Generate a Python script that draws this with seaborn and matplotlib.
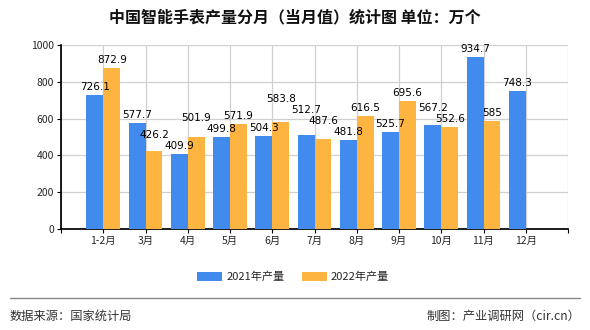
import numpy as np
import pandas as pd
import matplotlib
matplotlib.use("Agg")
import matplotlib.pyplot as plt
from matplotlib.lines import Line2D
from matplotlib.patches import Patch
import seaborn as sns

months = ["1-2月", "3月", "4月", "5月", "6月", "7月", "8月", "9月", "10月", "11月", "12月"]
v2021 = [726.1, 577.7, 409.9, 499.8, 504.3, 512.7, 481.8, 525.7, 567.2, 934.7, 748.3]
v2022 = [872.9, 426.2, 501.9, 571.9, 583.8, 487.6, 616.5, 695.6, 552.6, 585, np.nan]
series = ["2021年产量", "2022年产量"]
colors = ["#418bee", "#fdb441"]
yticks = [0, 200, 400, 600, 800, 1000]

sns.set_theme(style="white")
plt.rcParams["font.family"] = ["Noto Sans CJK SC", "DejaVu Sans"]

df = pd.DataFrame({
    "month": months * 2,
    "value": v2021 + v2022,
    "series": [series[0]] * len(months) + [series[1]] * len(months),
})

fig = plt.figure(figsize=(5.9, 3.3), dpi=100)
ax = fig.add_axes([61 / 590, 1 - 229 / 330, (568 - 61) / 590, (229 - 45) / 330])

sns.barplot(data=df, x="month", y="value", hue="series", palette=colors,
            width=0.8, gap=0, saturation=1, ax=ax, legend=False, zorder=3,
            linewidth=0, edgecolor="none")

ax.set_xlim(-1, 11)
ax.set_ylim(0, 1000)
ax.set_yticks(yticks)
ax.set_yticklabels([str(t) for t in yticks], fontsize=7.5)
ax.set_xticks(list(range(-1, 12)))
ax.set_xticklabels([""] + months + [""], fontsize=7.5)
ax.set_xlabel("")
ax.set_ylabel("")
ax.grid(True, color="#d0d0d0", linewidth=0.9, zorder=0)
ax.set_axisbelow(True)
for s in ["top", "right"]:
    ax.spines[s].set_visible(False)
ax.spines["left"].set_color("black")
ax.spines["bottom"].set_color("black")
ax.tick_params(axis="both", which="both", direction="out", length=3, width=0.8,
               color="black", pad=2, bottom=True, left=True)

# value labels, placed above bars and nudged up to avoid overlaps
labels = []
for i in range(len(months)):
    for k, vals in enumerate([v2021, v2022]):
        v = vals[i]
        if np.isnan(v):
            continue
        x = i - 0.2 if k == 0 else i + 0.2
        labels.append((v, x))
labels.sort()
fig.canvas.draw()
renderer = fig.canvas.get_renderer()
placed = []
for v, x in labels:
    t = ax.text(x, v, f"{v:g}", ha="center", va="bottom", fontsize=7.5,
                color="black", zorder=5, family=["DejaVu Sans"])
    t.set_transform(ax.transData + matplotlib.transforms.ScaledTranslation(0, 3 / 72, fig.dpi_scale_trans))
    dy = 3.0
    for _ in range(20):
        t.set_transform(ax.transData + matplotlib.transforms.ScaledTranslation(0, dy / 100, fig.dpi_scale_trans))
        bb = t.get_window_extent(renderer).expanded(1.0, 1.0)
        hit = None
        for pb in placed:
            if bb.overlaps(pb):
                hit = pb
                break
        if hit is None:
            break
        dy += (hit.y1 - bb.y0) + 1
    placed.append(t.get_window_extent(renderer))

fig.text(0.5, 1 - 17 / 330, "中国智能手表产量分月（当月值）统计图 单位：万个",
         ha="center", va="center", fontsize=11.5, fontweight="bold", color="#111111")

handles = [Patch(facecolor=c, edgecolor="none") for c in colors]
fig.legend(handles, series, loc="center", bbox_to_anchor=(0.497, 1 - 277 / 330),
           ncol=2, frameon=False, fontsize=8, handlelength=2.2, handleheight=0.9,
           columnspacing=1.6, handletextpad=0.4)

fig.add_artist(Line2D([10 / 590, 580 / 590], [1 - 298 / 330, 1 - 298 / 330],
                      color="#888888", linewidth=1))
fig.text(10 / 590, 1 - 316 / 330, "数据来源：国家统计局", ha="left", va="center",
         fontsize=8.8, color="#333333")
fig.text(580 / 590, 1 - 316 / 330, "制图：产业调研网（cir.cn）", ha="right", va="center",
         fontsize=8.8, color="#333333")

fig.savefig("out.png", dpi=100, facecolor="white")
